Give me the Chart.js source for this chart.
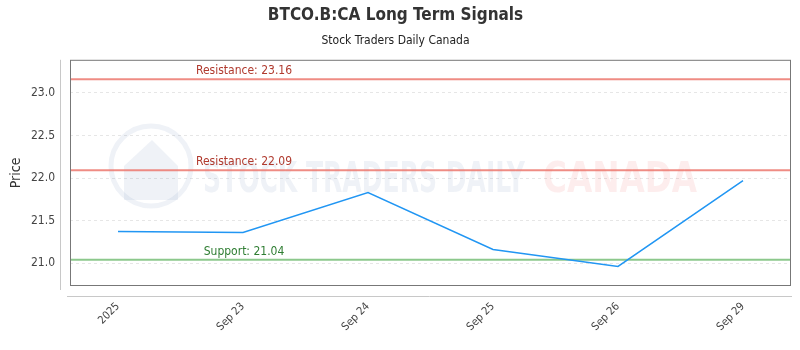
<!DOCTYPE html>
<html lang="en">
<head>
  <meta charset="UTF-8">
  <title>BTCO.B:CA Long Term Signals</title>
  <style>
    html, body { margin: 0; padding: 0; background: #ffffff; }
    #chartContainer { position: relative; width: 800px; height: 350px; }
  </style>
  <script src="https://cdn.jsdelivr.net/npm/chart.js"></script>
</head>
<body>
  <div id="chartContainer">
    <canvas id="chartCanvas"></canvas>
  </div>

  <script>
    // chart data
    const dateLabels = ['2025', 'Sep 23', 'Sep 24', 'Sep 25', 'Sep 26', 'Sep 29'];
    const priceValues = [21.37, 21.36, 21.83, 21.16, 20.96, 21.97];
    const signalNames = ['Resistance', 'Resistance', 'Support'];
    const signalValues = [23.16, 22.09, 21.04];
    const yTickValues = [21.0, 21.5, 22.0, 22.5, 23.0];

    const FONT = '"Liberation Sans Narrow", "DejaVu Sans Condensed", "Roboto", sans-serif';
    const xPad = 0.384;
    const xMin = -xPad, xMax = dateLabels.length - 1 + xPad;

    const signalColors = ['rgba(236,120,110,0.85)', 'rgba(236,120,110,0.85)', 'rgba(120,190,120,0.85)'];
    const signalText = ['#b03a2e', '#b03a2e', '#2e7d32'];

    // price series as x/y points on a linear x scale
    const priceData = priceValues.map((v, i) => ({ x: i, y: v }));

    const signalSets = signalValues.map((v, i) => ({
      label: signalNames[i] + ': ' + v.toFixed(2),
      data: [{ x: xMin, y: v }, { x: xMax, y: v }],
      borderColor: signalColors[i],
      borderWidth: 2,
      pointRadius: 0,
      fill: false
    }));

    // draw text squeezed to a given width
    function squeezeText(ctx, text, x, y, width) {
      const w = ctx.measureText(text).width;
      ctx.save();
      ctx.translate(x, y);
      ctx.scale(width / w, 1);
      ctx.fillText(text, 0, 0);
      ctx.restore();
    }

    // watermark behind the data
    const watermark = {
      id: 'watermark',
      beforeDatasetsDraw(chart) {
        const ctx = chart.ctx;
        ctx.save();
        ctx.globalAlpha = 0.09;
        ctx.strokeStyle = '#4a6fa5';
        ctx.lineWidth = 5;
        ctx.beginPath();
        ctx.arc(151, 166, 40, 0, Math.PI * 2);
        ctx.stroke();
        ctx.fillStyle = '#4a6fa5';
        ctx.beginPath();
        ctx.moveTo(124, 166);
        ctx.lineTo(152, 140);
        ctx.lineTo(178, 166);
        ctx.lineTo(178, 200);
        ctx.lineTo(124, 200);
        ctx.closePath();
        ctx.fill();
        ctx.font = 'bold 42px ' + FONT;
        ctx.textBaseline = 'middle';
        ctx.fillStyle = '#4a6fa5';
        squeezeText(ctx, 'STOCK TRADERS DAILY', 203, 181, 322);
        ctx.fillStyle = '#e53935';
        squeezeText(ctx, 'CANADA', 543, 181, 154);
        ctx.restore();
      }
    };

    // frame, outer axis lines and signal labels
    const decorations = {
      id: 'decorations',
      afterDraw(chart) {
        const ctx = chart.ctx;
        const a = chart.chartArea;
        const ys = chart.scales.y;
        ctx.save();
        ctx.strokeStyle = '#777';
        ctx.lineWidth = 1;
        ctx.strokeRect(a.left + 0.5, a.top + 0.5, a.right - a.left - 1, a.bottom - a.top - 1);
        ctx.strokeStyle = '#c8c8c8';
        ctx.beginPath();
        ctx.moveTo(60.5, a.top);
        ctx.lineTo(60.5, a.bottom + 4);
        ctx.moveTo(67, 296.5);
        ctx.lineTo(a.right + 1, 296.5);
        ctx.stroke();

        ctx.font = '12px ' + FONT;
        ctx.textAlign = 'center';
        ctx.textBaseline = 'bottom';
        signalValues.forEach((v, i) => {
          ctx.fillStyle = signalText[i];
          ctx.fillText(signalNames[i] + ': ' + v.toFixed(2), 244, ys.getPixelForValue(v) - 2);
        });
        ctx.restore();
      }
    };

    let chart;
    window.onload = () => {
      const ctx = document.getElementById('chartCanvas').getContext('2d');
      chart = new Chart(ctx, {
        type: 'line',
        data: {
          datasets: [{
            label: 'Price',
            data: priceData,
            borderColor: '#2196f3',
            borderWidth: 1.5,
            pointRadius: 0,
            tension: 0,
            fill: false
          }].concat(signalSets)
        },
        plugins: [watermark, decorations],
        options: {
          responsive: true,
          maintainAspectRatio: false,
          animation: false,
          layout: { padding: { left: 0, right: 9, top: 0, bottom: 0 } },
          plugins: {
            legend: { display: false },
            tooltip: { enabled: false },
            title: {
              display: true,
              text: 'BTCO.B:CA Long Term Signals',
              color: '#333',
              font: { family: FONT, size: 17, weight: 'bold' },
              padding: { top: 5, bottom: 8 }
            },
            subtitle: {
              display: true,
              text: 'Stock Traders Daily Canada',
              color: '#222',
              font: { family: FONT, size: 12 },
              padding: { top: 0, bottom: 12 }
            }
          },
          scales: {
            x: {
              type: 'linear',
              min: xMin,
              max: xMax,
              afterFit(scale) { scale.height = 64; },
              afterBuildTicks(scale) {
                scale.ticks = dateLabels.map((_, i) => ({ value: i }));
              },
              grid: { display: false, drawTicks: false },
              border: { display: false },
              ticks: {
                padding: 14,
                maxRotation: 45,
                minRotation: 45,
                color: '#444',
                font: { family: FONT, size: 11 },
                callback: (v) => dateLabels[v]
              }
            },
            y: {
              min: 20.73,
              max: 23.39,
              afterFit(scale) { scale.width = 70; },
              afterBuildTicks(scale) {
                scale.ticks = yTickValues.map(v => ({ value: v }));
              },
              grid: {
                color: '#e6e6e6',
                drawTicks: false
              },
              border: { display: false, dash: [3, 3] },
              ticks: {
                padding: 15,
                color: '#444',
                font: { family: FONT, size: 12 },
                callback: (v) => v.toFixed(1)
              },
              title: {
                display: true,
                text: 'Price',
                color: '#333',
                font: { family: FONT, size: 14 },
                padding: { top: 8, bottom: 2 }
              }
            }
          }
        }
      });
    };
  </script>
</body>
</html>
